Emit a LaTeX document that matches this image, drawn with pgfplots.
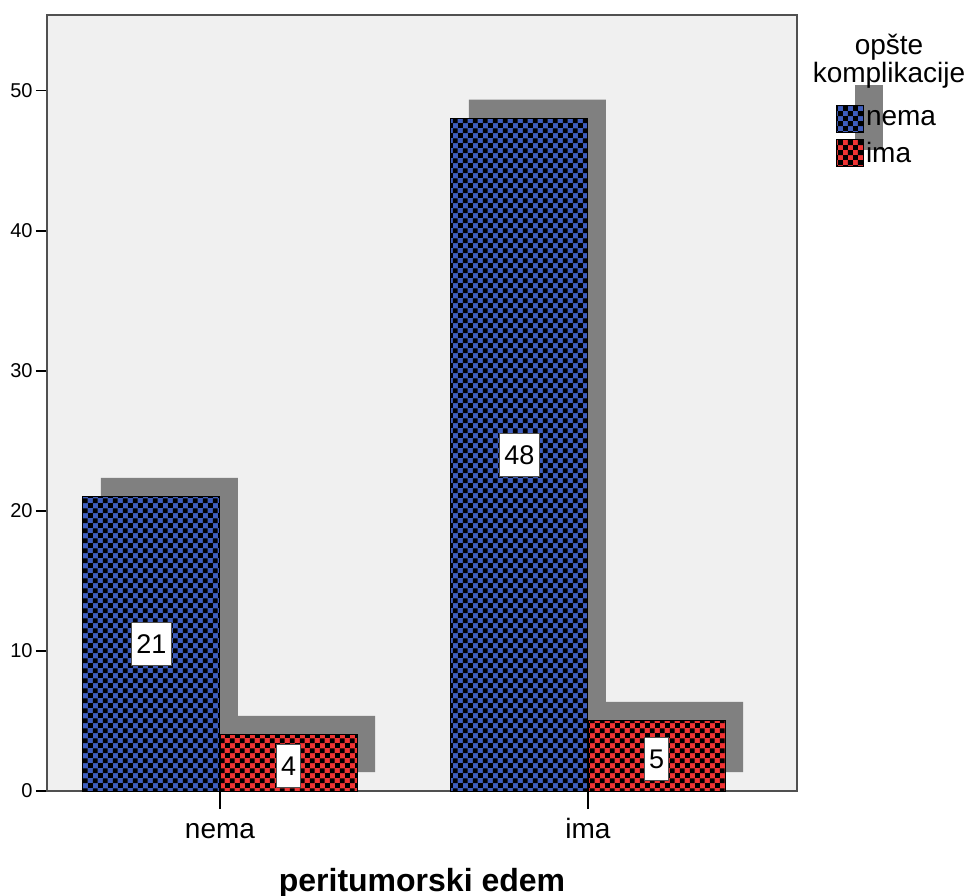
\documentclass[border=0pt]{standalone}
\usepackage{fontspec}
\setmainfont{Liberation Sans}
\usepackage{pgfplots}
\pgfplotsset{compat=1.18}
\usetikzlibrary{patterns}

\definecolor{spssblue}{RGB}{62,94,190}
\definecolor{spssred}{RGB}{240,52,52}
\definecolor{shadowgray}{RGB}{128,128,128}
\definecolor{panel}{RGB}{240,240,240}
\definecolor{framegray}{RGB}{80,80,80}

% checkerboard with 2.45pt cells
\pgfdeclarepatternformonly{checker}{\pgfpointorigin}{\pgfqpoint{4.9pt}{4.9pt}}{\pgfqpoint{4.9pt}{4.9pt}}{%
  \pgfpathrectangle{\pgfpointorigin}{\pgfqpoint{2.45pt}{2.45pt}}%
  \pgfpathrectangle{\pgfqpoint{2.45pt}{2.45pt}}{\pgfqpoint{2.45pt}{2.45pt}}%
  \pgfusepath{fill}}

\pgfplotsset{
  checkbar/.style={ybar, bar width=0.3723, bar shift=0pt, fill=#1, draw=black, line width=0.5pt,
    postaction={pattern=checker, pattern color=black},
    legend image code/.code={\draw[##1, line width=0.5pt] (0pt,-6.75pt) rectangle (13.5pt,6.75pt);}},
  shadowbar/.style={ybar, bar width=0.3723, bar shift=0pt, fill=shadowgray, draw=none,
    xshift=9pt, yshift=9.5pt, forget plot},
}

\begin{document}
\begin{tikzpicture}
\begin{axis}[
    scale only axis,
    width=375pt, height=388pt,
    xmin=-0.4701, xmax=1.5679,
    ymin=0, ymax=55.4,
    axis background/.style={fill=panel},
    axis line style={framegray, line width=1pt},
    tick pos=left, tick align=outside,
    major tick length=5.5pt,
    tick style={black, line width=0.8pt},
    xtick={0,1}, xticklabels={nema,ima},
    xtick style={/pgfplots/major tick length=9pt},
    ytick={0,10,20,30,40,50},
    /pgf/number format/assume math mode=true,
    yticklabel style={font=\fontsize{10}{12}\selectfont, inner sep=1.5pt},
    xticklabel style={font=\fontsize{14}{16}\selectfont, anchor=north, text height=10.5pt, text depth=3pt},
    xticklabel shift=4pt,
    xlabel={\textbf{peritumorski edem}},
    xlabel style={font=\fontsize{16}{18}\selectfont, at={(axis description cs:0.5,-0.1185)}, anchor=center},
    clip=false,
    legend style={at={(axis description cs:1.052,0.884)}, anchor=north west, draw=none, fill=none,
      inner sep=0pt, row sep=3pt, font=\fontsize{14}{16}\selectfont,
      nodes={inner xsep=0.8pt, inner ysep=0pt, anchor=west}},
    legend cell align=left,
]

% shadows
\addplot[shadowbar] coordinates {(-0.1862,21) (0.8138,48)};
\addplot[shadowbar] coordinates {(0.1862,4) (1.1862,5)};

% bars
\addplot[checkbar=spssblue] coordinates {(-0.1862,21) (0.8138,48)};
\addplot[checkbar=spssred] coordinates {(0.1862,4) (1.1862,5)};

% value labels
\addplot[only marks, mark=none, forget plot, nodes near coords, point meta=explicit symbolic,
  every node near coord/.style={anchor=center, fill=white, draw=framegray, line width=0.4pt,
    font=\fontsize{13.5}{15}\selectfont, inner xsep=2.4pt, inner ysep=3pt, text height=12.5pt, text depth=3pt}]
  coordinates {(-0.1862,10.5)[21] (0.1862,1.8)[4] (0.8138,24)[48] (1.1862,2.3)[5]};

\legend{nema, ima}

% legend title and its shadow block
\fill[shadowgray] ([shift={(29pt,-35pt)}]rel axis cs:1,1) rectangle ([shift={(43pt,-67.5pt)}]rel axis cs:1,1);
\node[align=center, anchor=north, inner sep=0pt, font=\fontsize{14}{14}\selectfont]
  at ([shift={(46pt,-9.5pt)}]rel axis cs:1,1) {opšte\\komplikacije};

\coordinate (bbl) at ([shift={(-23.5pt,-52pt)}]rel axis cs:0,0);
\coordinate (btr) at ([shift={(88.5pt,7.5pt)}]rel axis cs:1,1);
\end{axis}
\pgfresetboundingbox
\path[use as bounding box] (bbl) rectangle (btr);
\end{tikzpicture}
\end{document}
